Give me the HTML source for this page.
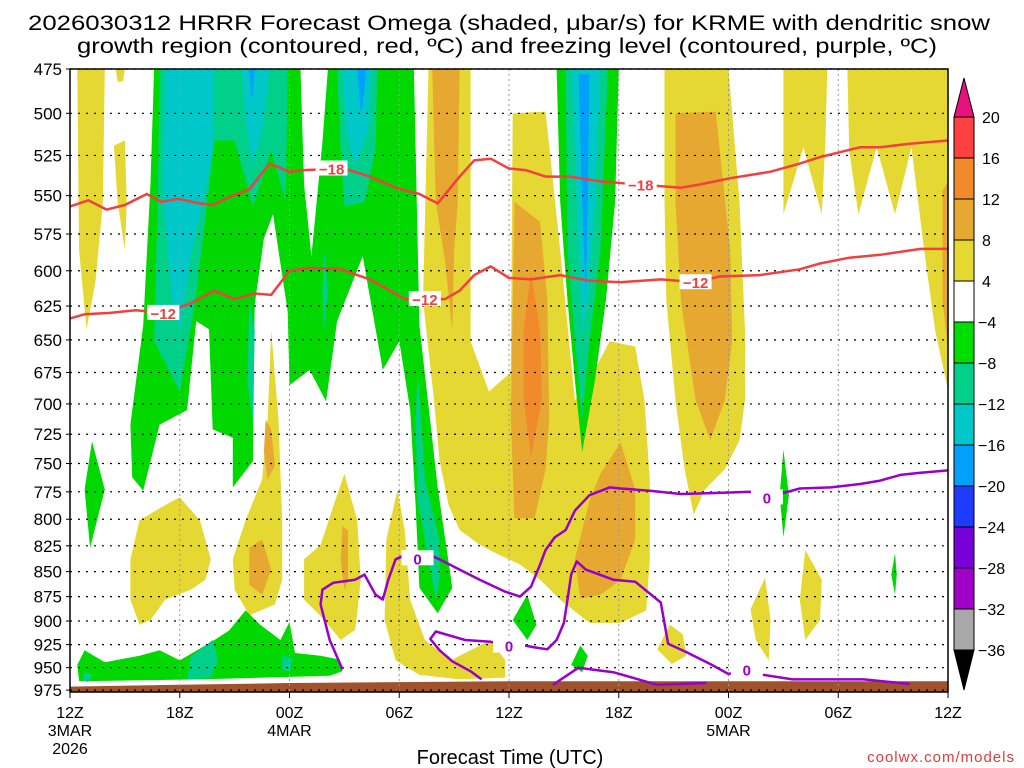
<!DOCTYPE html>
<html><head><meta charset="utf-8"><style>
html,body{margin:0;padding:0;background:#fff;width:1024px;height:768px;overflow:hidden}
svg{display:block;font-family:"Liberation Sans",sans-serif}
</style></head><body>
<svg id="chart" width="1024" height="768" viewBox="0 0 1024 768">
<text x="28" y="30" textLength="962" lengthAdjust="spacingAndGlyphs" font-size="21">2026030312 HRRR Forecast Omega (shaded, μbar/s) for KRME with dendritic snow</text>
<text x="77" y="53" textLength="860" lengthAdjust="spacingAndGlyphs" font-size="21">growth region (contoured, red, ºC) and freezing level (contoured, purple, ºC)</text>
<defs><clipPath id="pc"><rect x="70" y="69" width="878" height="623"/></clipPath></defs>
<g id="shade" clip-path="url(#pc)"></g>
<g id="grid"></g>
<g id="lines" clip-path="url(#pc)"></g>
<rect x="70" y="69" width="878" height="623" fill="none" stroke="#000" stroke-width="1.5"/>
<g id="axes"></g>
<g id="cbar"></g>
<text x="510" y="764" text-anchor="middle" font-size="20">Forecast Time (UTC)</text>
<text x="1015" y="762" text-anchor="end" font-size="15" fill="#e03c3c" letter-spacing="1">coolwx.com/models</text>
</svg>
<script>
const NS="http://www.w3.org/2000/svg";
const pTicks=[475,500,525,550,575,600,625,650,675,700,725,750,775,800,825,850,875,900,925,950,975];
const tHours=[0,6,12,18,24,30,36,42,48];
const tLabels=["12Z","18Z","00Z","06Z","12Z","18Z","00Z","06Z","12Z"];
const tDates=["3MAR","","4MAR","","","","5MAR","",""];
const cbLevels=[20,16,12,8,4,-4,-8,-12,-16,-20,-24,-28,-32,-36];
const cbColors=["#ff4040","#f08a2a","#e6a830","#e6d832","#ffffff","#00dd00","#00d08a","#00c8c8","#00a0ff","#1e3cff","#7800d8","#a000c8","#a8a8a8"];
const surfHours=[0,6,12,18,24,30,36,42,48];
const surfP=[971,969,967,966,965,965,965,965,965];

const m18=[[0,557],[1,553],[2,559],[3,556],[4.2,549],[5,554],[5.9,552],[7.1,555],[7.8,556],[8.7,551],[9.8,546],[10.9,530],[12,535],[12.8,534],[15,533],[16.4,538],[17.8,545],[19.1,549],[20.1,555],[21.3,538],[22.1,528],[23,527],[24,533],[24.9,534],[26,538],[27.3,538],[29,541],[31.2,543],[33.4,545],[34.4,543],[36.1,539],[38.3,535],[39.9,530],[41,526],[43.2,520],[44.3,520],[45.9,518],[48,516]];
const m12=[[0,634],[0.8,631],[2.2,630],[3.6,628],[5.1,630],[6.6,623],[7.9,614],[9,620],[10.1,616],[11,617],[12,600],[13.1,598],[14.8,599],[16.4,606],[17.5,614],[18.3,620],[19.4,620],[20.5,620],[21.3,614],[22.1,603],[23,597],[24,605],[25.2,606],[26.8,603],[28.4,607],[30.1,608],[32.3,606],[34.2,608],[35.5,604],[37.7,603],[39.9,599],[41,595],[42.6,591],[44.3,589],[46.5,585],[48,585]];
const z1=[[14.9,952],[14.2,920],[13.7,883],[13.8,868],[14.4,861],[15.6,858],[16.1,853],[16.7,873],[17.1,878],[17.4,858],[17.8,838],[18.3,834],[19,837],[19.7,834],[20.2,838],[21.3,848],[22.4,858],[23.8,870],[24.6,875],[25.2,865],[25.7,843],[26,829],[26.5,817],[27.1,810],[27.6,792],[28.4,778],[29.5,771],[30.1,772],[31.7,774],[33.4,777],[35.5,776],[37.2,775],[38.1,780],[39.9,772],[41.6,771],[43.2,768],[44.3,765],[45.4,760],[46.5,758],[48,756]];
const z2=[[22.5,963],[21.9,954],[20.9,943],[20.2,931],[19.7,919],[20,911],[21.6,920],[23,922],[24,926],[24.6,925],[25.4,928],[26.1,930],[26.6,920],[27,902],[27.2,878],[27.4,853],[27.7,840],[28.2,848],[29.7,858],[30.9,860],[32.3,881],[32.7,924],[33.7,933],[35,946],[36,957],[37,952],[37.6,957],[39.5,963],[43.4,963],[45.9,968]];
const z3=[[26.4,969],[27.8,950],[29.7,955],[32.1,969],[34.8,967]];
const lbl18=[[14.3,533],[31.2,543]];
const lbl12=[[5.1,630],[19.4,620],[34.2,608]];
const lbl0=[[19,837],[38.1,780],[24,926],[37,952]];

const yellowR=[
[[0.4,475],[1.9,475],[1.8,554],[1.4,607],[0.9,642],[0.5,586]],
[[2.4,519],[3,516],[3.1,554],[3,586],[2.6,554]],
[[2.5,475],[3,475],[2.9,482],[2.6,482]],
[[3.3,838],[3.8,801],[5.2,787],[6,780],[7.1,801],[7.7,838],[7.4,858],[6.6,868],[5.2,878],[4.4,899],[3.8,904],[3.3,878]],
[[11,643],[11.4,713],[11.6,801],[11.6,858],[11.2,883],[9.8,894],[9,868],[8.9,838],[9.6,801],[10.5,764],[10.8,713]],
[[15,759],[15.7,801],[15.9,858],[15.6,909],[14.8,920],[13.9,899],[12.8,878],[12.8,838],[13.7,824],[14.5,783]],
[[17.3,819],[17.9,773],[18.3,810],[18.6,878],[19.4,920],[20.8,942],[21.9,931],[23,920],[23.8,942],[23.8,961],[21.3,963],[19.1,958],[17.8,942],[17.2,899]],
[[19.6,475],[21.9,475],[21.9,651],[22.9,690],[24.1,675],[24.2,500],[26,499],[26.8,586],[27.6,697],[28.4,681],[29.5,651],[30.9,655],[31.4,697],[31.7,764],[31.7,838],[31.5,889],[30.1,902],[28.4,902],[26.8,878],[25.7,858],[24.6,843],[23.5,834],[22.4,824],[21.3,810],[20.7,787],[20.2,747],[19.9,697],[19.3,621]],
[[32.5,475],[36,475],[36.6,554],[36.9,643],[36.9,697],[36.6,730],[35.8,755],[34.7,773],[34.1,796],[33.6,755],[33.1,697],[32.6,621],[32.5,554]],
[[39,475],[41.4,475],[41.3,516],[41.1,562],[40.1,520],[39,562]],
[[42.5,475],[48,475],[48,689],[47.3,643],[46.7,586],[46,520],[45.1,562],[44.1,520],[43.1,562],[42.6,522]],
[[38,856],[38.3,899],[38.2,942],[37.5,920],[37.2,888]],
[[40.2,829],[41.1,858],[41,899],[40.2,920],[39.9,878]],
[[32.8,904],[33.5,914],[33.7,937],[32.9,946],[32.1,930]]
];
const orangeR=[
[[10.7,713],[11,721],[11.2,752],[10.8,764],[10.6,740]],
[[9.8,827],[10.5,819],[11,848],[10.5,873],[9.8,863]],
[[14.9,806],[15.2,811],[15.2,858],[15,868],[14.8,838]],
[[19.8,475],[21.3,475],[21.2,554],[21,586],[20.9,643],[20.5,593],[20,554]],
[[24.3,554],[25.7,567],[26.1,621],[26.2,713],[26,755],[25.4,799],[24.3,799],[24.1,713],[24.2,621]],
[[30.1,732],[30.9,773],[30.9,819],[30.1,858],[29,873],[27.9,877],[27.6,838],[28.4,783],[29,759]],
[[33.1,500],[35.3,499],[36.1,586],[36.2,651],[35.8,697],[35,730],[34.2,697],[33.4,621],[33.1,554]],
[[47.7,547],[48,541],[48,658],[47.7,621]]
];
const dkOrangeR=[
[[25.2,601],[25.7,643],[25.8,697],[25.2,744],[24.8,697],[24.8,643]]
];
const greenR=[
[[4.6,475],[4.4,542],[4,639],[3.3,717],[3.4,762],[4,774],[4.9,717],[6.4,705],[6.9,636],[7.6,642],[7.8,721],[8.9,728],[8.9,771],[10,748],[10.1,624],[10.6,578],[11.1,562],[11.9,629],[12,685],[13.1,673],[14,698],[14.6,636],[16,590],[17.1,673],[18,651],[18.6,705],[18.9,789],[19.1,866],[20.1,892],[20.9,866],[20.1,771],[19.1,639],[18.8,475]],
[[26.6,475],[30,475],[29.8,554],[29.3,621],[28.7,681],[28,740],[27.6,681],[27.2,621],[26.8,554]],
[[0.4,947],[0.8,931],[1.9,944],[3.8,937],[4.9,931],[6,942],[7.9,920],[8.7,910],[9.6,889],[10.4,904],[11.5,920],[12,901],[12.3,934],[13.7,937],[14.7,941],[14.9,954],[14.2,959],[7.1,963],[0.5,965]],
[[1.2,731],[1.9,773],[1.1,827],[0.8,773]],
[[25,873],[25.5,904],[25,920],[24.2,899]],
[[27.9,926],[28.3,937],[28,955],[27.4,947]],
[[39,738],[39.3,778],[39,817],[38.8,778]],
[[45.1,832],[45.2,853],[45.1,873],[44.9,853]]
];
const whiteR=[
[[12.6,475],[14.1,475],[13.8,517],[13.2,590],[12.8,543]]
];
const tealR=[
[[4.9,475],[11.9,475],[11.8,554],[11,522],[10,557],[9,516],[7.9,516],[6.9,617],[6,690],[4.6,651],[4.8,554]],
[[14.6,475],[16.8,475],[16.7,522],[16.1,554],[15,557],[14.8,522]],
[[19,674],[19.2,713],[19.4,764],[20.2,819],[20.2,858],[20,878],[19.6,838],[19,783],[18.9,713]],
[[9.8,620],[10.1,643],[10,714],[9.7,683]],
[[13.9,586],[14.1,615],[13.9,643],[13.8,615]],
[[27.1,475],[29.4,475],[29,586],[28.4,651],[28,713],[27.6,651],[27.2,586]],
[[6.6,938],[7.8,920],[8.1,942],[7.7,961],[6.4,963]],
[[0.8,955],[1.2,958],[1,966],[0.7,964]],
[[11.6,937],[12.2,940],[12,955],[11.6,952]]
];
const cyanR=[
[[5.2,475],[7.9,475],[7.8,522],[7.4,547],[6.6,590],[6,643],[5.6,621],[5.1,554]],
[[9.4,475],[10.9,475],[10.5,510],[10,531],[9.6,504]],
[[14.9,475],[16.5,475],[16.3,510],[15.6,532],[15.1,510]],
[[27.4,475],[29,475],[28.7,554],[28.3,621],[28,643],[27.8,586],[27.6,522]]
];
const blueR=[
[[9.8,475],[10.1,475],[10,490],[9.9,490]],
[[15.7,475],[16.2,475],[16,496],[15.9,499]],
[[27.8,478],[28.4,478],[28.3,554],[28.2,621],[28,554]]
];

const X0=70,X1=948,Y0=69,PTOP=475,YS=863.7;
function X(h){return X0+h*(X1-X0)/48;}
function Y(p){return Y0+YS*Math.log(p/PTOP);}
function el(tag,attrs,parent){const e=document.createElementNS(NS,tag);for(const k in attrs)e.setAttribute(k,attrs[k]);parent.appendChild(e);return e;}
const shade=document.getElementById('shade'),grid=document.getElementById('grid'),lines=document.getElementById('lines'),axes=document.getElementById('axes'),cbar=document.getElementById('cbar');
function pts(a){return a.map(d=>X(d[0]).toFixed(1)+","+Y(d[1]).toFixed(1)).join(" ");}
function region(list,color,name){
  list.forEach(r=>{const e=el('polygon',{points:pts(r),fill:color},shade);
    
    });
}
region(yellowR,"#e6d832","omega-4-8-region");
region(orangeR,"#e6a830","omega-8-12-region");
region(dkOrangeR,"#f08a2a","omega-12-16-region");
region(greenR,"#00d800","omega-neg4-neg8-region");
region(whiteR,"#ffffff","omega-neutral-region");
region(tealR,"#00d08a","omega-neg8-neg12-region");
region(cyanR,"#00c8c8","omega-neg12-neg16-region");
region(blueR,"#00a0ff","omega-neg16-neg20-region");
{let d="M"+X(0)+","+(Y(975)+10);surfHours.forEach((h,i)=>{d+=" L"+X(h).toFixed(1)+","+Y(surfP[i]).toFixed(1);});d+=" L"+X(48)+","+(Y(975)+10)+"Z";
const g=el('path',{d:d,fill:"#a0522d"},shade);

}
pTicks.forEach(p=>{const l=el('line',{x1:X0,x2:X1,y1:Y(p),y2:Y(p),stroke:"#000","stroke-width":1.2,"stroke-dasharray":"2,6"},grid);

});
tHours.forEach(h=>{const l=el('line',{x1:X(h),x2:X(h),y1:Y0,y2:692,stroke:"#999","stroke-width":1,"stroke-dasharray":"2,3"},grid);

});
function line(a,color,name){const e=el('polyline',{points:pts(a),fill:"none",stroke:color,"stroke-width":2.5,"stroke-linejoin":"round"},lines);

}
line(m18,"#f04040","dgz-minus18-contour");
line(m12,"#f04040","dgz-minus12-contour");
line(z1,"#9900cc","freezing-level-contour");
line(z2,"#9900cc","freezing-level-contour-lower");
line(z3,"#9900cc","freezing-level-contour-surface");
function lbl(a,txt,color,name){a.forEach(d=>{
  const r=el('rect',{x:X(d[0])-16,y:Y(d[1])-8,width:32,height:15,fill:"#fff"},lines);
  
  
  const t=el('text',{x:X(d[0]),y:Y(d[1])+6,"text-anchor":"middle","font-size":15,"font-weight":"bold",fill:color},lines);
  t.textContent=txt;
  
  });}
lbl(lbl18,"\u221218","#f04040","contour-label-minus18");
lbl(lbl12,"\u221212","#f04040","contour-label-minus12");
lbl(lbl0,"0","#9900cc","contour-label-zero");
pTicks.forEach(p=>{const t=el('text',{x:62,y:Y(p)+6,"text-anchor":"end","font-size":17},axes);t.textContent=p;


const k=el('line',{x1:X0-4,x2:X0,y1:Y(p),y2:Y(p),stroke:"#000"},axes);

});
tHours.forEach((h,i)=>{const k=el('line',{x1:X(h),x2:X(h),y1:692,y2:698,stroke:"#000"},axes);


const t=el('text',{x:X(h),y:718,"text-anchor":"middle","font-size":16},axes);t.textContent=tLabels[i];


if(tDates[i]){const d=el('text',{x:X(h),y:736,"text-anchor":"middle","font-size":16},axes);d.textContent=tDates[i];

}});
{const t=el('text',{x:X(0),y:754,"text-anchor":"middle","font-size":16},axes);t.textContent="2026";

}
const CB0=117,CBH=(650-117)/13,CX=954,CW=20;
{const t=el('polygon',{points:`${CX},${CB0} ${CX+CW},${CB0} ${CX+CW/2},78`,fill:"#e8107a",stroke:"#000"},cbar);


const b=el('polygon',{points:`${CX},650 ${CX+CW},650 ${CX+CW/2},690`,fill:"#000",stroke:"#000"},cbar);

}
cbColors.forEach((c,i)=>{const r=el('rect',{x:CX,y:CB0+i*CBH,width:CW,height:CBH,fill:c,stroke:"#000","stroke-width":1},cbar);

});
cbLevels.forEach((v,i)=>{const t=el('text',{x:v<0?978:982,y:CB0+i*CBH+6,"font-size":16},cbar);t.textContent=v<0?"\u2212"+(-v):v;

});
</script>
</body></html>
